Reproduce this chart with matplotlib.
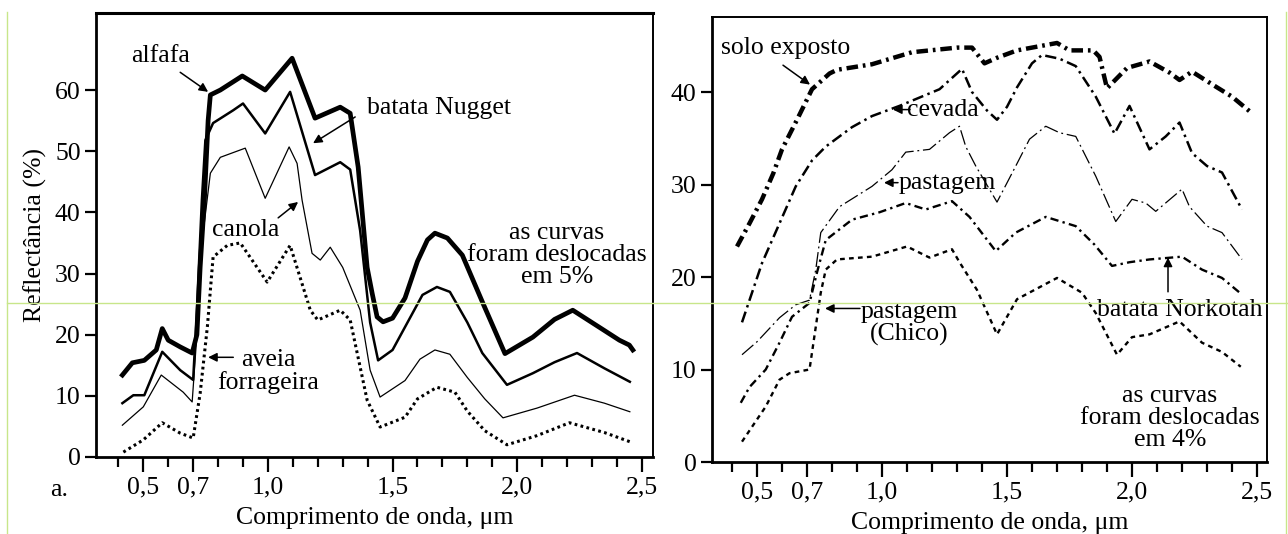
import matplotlib
matplotlib.use("Agg")
import matplotlib.pyplot as plt
import numpy as np

# ---- left panel data (reflectance %, curves shifted by 5%) ----
wl_alfafa = [0.416, 0.456, 0.504, 0.552, 0.576, 0.600, 0.648, 0.696, 0.715, 0.728, 0.745, 0.760,
             0.769, 0.809, 0.897, 0.989, 1.097, 1.189, 1.29, 1.33, 1.362, 1.398, 1.418, 1.438,
             1.462, 1.50, 1.55, 1.60, 1.64, 1.67, 1.72, 1.78, 1.863, 1.951, 2.063, 2.15,
             2.223, 2.33, 2.41, 2.45, 2.464]
r_alfafa = [13.4, 15.4, 15.8, 17.5, 21.0, 19.1, 18.0, 17.0, 20.0, 31.0, 42.0, 55.0,
            59.2, 60.0, 62.3, 60.0, 65.2, 55.4, 57.2, 56.2, 47.4, 31.0, 26.8, 22.9,
            22.1, 22.7, 26.0, 32.0, 35.5, 36.6, 35.8, 33.0, 25.1, 16.9, 19.6, 22.5,
            24.0, 21.2, 19.1, 18.3, 17.5]

wl_nugget = [0.416, 0.46, 0.504, 0.576, 0.648, 0.70, 0.716, 0.735, 0.749, 0.78, 0.861, 0.90,
             0.989, 1.089, 1.189, 1.29, 1.33, 1.37, 1.41, 1.442, 1.50, 1.58, 1.62, 1.678,
             1.73, 1.80, 1.86, 1.959, 2.063, 2.15, 2.24, 2.35, 2.452]
r_nugget = [8.8, 10.1, 10.1, 17.2, 14.2, 12.6, 25.0, 42.0, 51.8, 54.6, 56.7, 57.8,
            52.9, 59.7, 46.1, 48.2, 47.0, 37.0, 22.0, 15.8, 17.5, 23.5, 26.5, 27.8,
            27.0, 22.0, 17.0, 11.8, 13.7, 15.5, 17.0, 14.5, 12.3]

wl_canola = [0.416, 0.50, 0.572, 0.66, 0.696, 0.715, 0.735, 0.769, 0.809, 0.909, 0.989, 1.085,
             1.117, 1.137, 1.177, 1.21, 1.25, 1.30, 1.37, 1.41, 1.45, 1.55, 1.61, 1.67,
             1.73, 1.80, 1.87, 1.943, 2.08, 2.23, 2.35, 2.452]
r_canola = [5.2, 8.2, 13.4, 10.6, 9.0, 20.0, 35.0, 46.4, 49.0, 50.5, 42.3, 50.7,
            48.0, 42.0, 33.3, 32.2, 34.3, 31.0, 24.0, 14.2, 9.8, 12.5, 16.0, 17.5,
            16.8, 13.0, 9.5, 6.4, 8.0, 10.1, 8.8, 7.4]

wl_aveia = [0.42, 0.50, 0.576, 0.648, 0.70, 0.728, 0.757, 0.78, 0.837, 0.889, 0.997, 1.089,
            1.17, 1.20, 1.29, 1.33, 1.398, 1.45, 1.55, 1.60, 1.678, 1.75, 1.80, 1.87,
            1.959, 2.08, 2.21, 2.35, 2.452]
r_aveia = [0.8, 2.8, 5.6, 3.9, 3.1, 10.4, 21.3, 32.7, 34.6, 35.0, 28.6, 34.6,
           24.0, 22.4, 24.0, 22.4, 9.3, 4.9, 6.5, 9.5, 11.4, 10.6, 7.5, 4.3,
           2.0, 3.5, 5.6, 4.0, 2.5]

# ---- right panel data (curves shifted by 4%) ----
wl_solo = [0.42, 0.47, 0.52, 0.565, 0.60, 0.66, 0.72, 0.79, 0.82, 0.96, 1.12, 1.30, 1.36,
           1.41, 1.46, 1.54, 1.70, 1.75, 1.845, 1.87, 1.90, 1.98, 2.07, 2.15, 2.19, 2.24,
           2.34, 2.40, 2.48]
r_solo = [23.3, 25.8, 28.4, 31.2, 33.8, 37.0, 40.3, 42.0, 42.4, 43.0, 44.3, 44.8, 44.8,
          43.1, 43.7, 44.5, 45.3, 44.5, 44.5, 43.8, 40.4, 42.6, 43.3, 42.1, 41.3, 42.2,
          40.5, 39.5, 37.7]

wl_cevada = [0.44, 0.47, 0.52, 0.59, 0.655, 0.72, 0.775, 0.88, 0.96, 1.07, 1.23, 1.32, 1.36,
             1.42, 1.46, 1.50, 1.54, 1.60, 1.64, 1.71, 1.775, 1.855, 1.93, 1.99, 2.07,
             2.135, 2.19, 2.24, 2.30, 2.36, 2.44]
r_cevada = [15.1, 17.5, 21.5, 25.8, 29.8, 32.6, 34.1, 36.2, 37.4, 38.5, 40.3, 42.5, 40.0,
            38.0, 37.0, 38.4, 40.5, 43.1, 44.0, 43.6, 42.8, 39.5, 35.5, 38.5, 33.8,
            35.2, 36.7, 33.4, 32.0, 31.3, 27.3]

wl_pastagem = [0.44, 0.50, 0.59, 0.655, 0.71, 0.735, 0.755, 0.83, 0.96, 1.04, 1.095, 1.19,
               1.27, 1.31, 1.335, 1.375, 1.46, 1.535, 1.59, 1.655, 1.71, 1.775, 1.855,
               1.935, 2.0, 2.055, 2.095, 2.2, 2.23, 2.30, 2.36, 2.44]
r_pastagem = [11.6, 13.0, 15.6, 17.0, 17.5, 20.8, 24.8, 27.6, 29.8, 31.6, 33.5, 33.8,
              35.6, 36.3, 34.1, 32.0, 28.1, 32.0, 34.9, 36.3, 35.6, 35.2, 30.9,
              26.0, 28.4, 28.0, 27.1, 29.5, 27.6, 25.5, 24.8, 21.9]

wl_norkotah = [0.435, 0.47, 0.535, 0.59, 0.64, 0.71, 0.74, 0.775, 0.88, 0.99, 1.095, 1.175,
               1.28, 1.35, 1.455, 1.535, 1.655, 1.775, 1.85, 1.92, 1.99, 2.07, 2.2, 2.28,
               2.36, 2.44]
r_norkotah = [6.4, 8.1, 10.0, 12.9, 15.7, 17.2, 20.5, 24.0, 26.2, 27.0, 28.0, 27.3,
              28.2, 26.5, 22.8, 24.8, 26.5, 25.5, 23.5, 21.2, 21.6, 21.9, 22.2, 20.8,
              19.9, 18.1]

wl_chico = [0.44, 0.535, 0.59, 0.63, 0.71, 0.735, 0.755, 0.775, 0.82, 0.96, 1.10, 1.19,
            1.28, 1.31, 1.38, 1.46, 1.54, 1.70, 1.80, 1.855, 1.94, 2.0, 2.07, 2.19, 2.28,
            2.36, 2.435]
r_chico = [2.2, 6.0, 8.9, 9.6, 10.0, 14.6, 18.3, 20.8, 21.9, 22.2, 23.3, 22.1,
           23.0, 21.6, 18.6, 13.8, 17.6, 19.9, 18.3, 16.1, 11.6, 13.5, 13.8, 15.2, 12.9,
           11.9, 10.3]

xtick_major = [0.5, 0.7, 1.0, 1.5, 2.0, 2.5]
xtick_labels = ["0,5", "0,7", "1,0", "1,5", "2,0", "2,5"]
ytick_left = [0, 10, 20, 30, 40, 50, 60]
ytick_right = [0, 10, 20, 30, 40]

plt.rcParams['font.family'] = ['Liberation Serif', 'DejaVu Serif']
plt.rcParams['font.size'] = 18.5

fig = plt.figure(figsize=(12.88, 5.34), dpi=100)
ax1 = fig.add_axes([0.0745, 0.1442, 0.4325, 0.8315])
ax2 = fig.add_axes([0.5528, 0.1348, 0.4309, 0.8332])

# left
ax1.plot(wl_alfafa, r_alfafa, color='black', lw=3.4, solid_joinstyle='round')
ax1.plot(wl_nugget, r_nugget, color='black', lw=1.8, solid_joinstyle='round')
ax1.plot(wl_canola, r_canola, color='black', lw=0.9)
ax1.plot(wl_aveia, r_aveia, color='black', lw=2.2, linestyle=(0, (0.9, 1.1)))
ax1.set_xlim(0.31, 2.545)
ax1.set_ylim(0, 72.6)
ax1.set_yticks(ytick_left)
ax1.set_ylabel("Reflectância (%)", labelpad=6)

# right
ax2.plot(wl_solo, r_solo, color='black', lw=3.2, linestyle=(0, (2.6, 1.1, 0.6, 1.1)))
ax2.plot(wl_cevada, r_cevada, color='black', lw=1.8, linestyle=(0, (4.5, 1.8, 1.0, 1.8)))
ax2.plot(wl_pastagem, r_pastagem, color='black', lw=0.9, linestyle=(0, (12, 3, 1.5, 3)))
ax2.plot(wl_norkotah, r_norkotah, color='black', lw=1.7, linestyle=(0, (3.5, 1.8, 1.0, 1.8)))
ax2.plot(wl_chico, r_chico, color='black', lw=1.7, linestyle=(0, (2.0, 1.8)))
ax2.set_xlim(0.32, 2.54)
ax2.set_ylim(0, 48.1)
ax2.set_yticks(ytick_right)

for ax in (ax1, ax2):
    ax.set_xticks(xtick_major)
    ax.set_xticklabels(xtick_labels)
    ax.set_xticks([x / 10 for x in range(4, 26) if x / 10 not in xtick_major], minor=True)
    ax.tick_params(axis='x', which='major', direction='out', length=11, width=1.6, pad=3)
    ax.tick_params(axis='x', which='minor', direction='out', length=7, width=1.6)
    ax.tick_params(axis='y', direction='out', length=8, width=1.6, pad=3)
    ax.set_xlabel("Comprimento de onda, μm", labelpad=6)
    for s in ('left', 'bottom'):
        ax.spines[s].set_linewidth(2.0)
    for s in ('top', 'right'):
        ax.spines[s].set_linewidth(1.4)
ax1.spines['top'].set_linewidth(2.2)

arw = dict(arrowstyle='-|>', color='black', lw=1.1, mutation_scale=13, shrinkA=0, shrinkB=0)

# left annotations
ax1.text(0.568, 65.6, "alfafa", ha='center', va='center')
ax1.annotate("", xy=(0.76, 59.7), xytext=(0.648, 62.9), arrowprops=arw)
ax1.text(1.686, 57.1, "batata Nugget", ha='center', va='center')
ax1.annotate("", xy=(1.181, 51.3), xytext=(1.35, 55.6), arrowprops=arw)
ax1.text(0.909, 37.1, "canola", ha='center', va='center')
ax1.annotate("", xy=(1.121, 41.7), xytext=(1.041, 39.1), arrowprops=arw)
ax1.text(1.0, 14.0, "aveia\nforrageira", ha='center', va='center', linespacing=1.0)
ax1.annotate("", xy=(0.76, 16.3), xytext=(0.861, 16.3), arrowprops=arw)
ax1.text(2.159, 33.0, "as curvas\nforam deslocadas\nem 5%", ha='center', va='center',
         linespacing=1.0)

# right annotations
ax2.text(0.616, 44.8, "solo exposto", ha='center', va='center')
ax2.annotate("", xy=(0.712, 40.8), xytext=(0.604, 42.9), arrowprops=arw)
ax2.text(1.244, 38.1, "cevada", ha='center', va='center')
ax2.annotate("", xy=(1.044, 38.1), xytext=(1.112, 38.1), arrowprops=arw)
ax2.text(1.26, 30.2, "pastagem", ha='center', va='center')
ax2.annotate("", xy=(1.008, 30.2), xytext=(1.064, 30.2), arrowprops=arw)
ax2.text(1.108, 15.0, "pastagem\n(Chico)", ha='center', va='center', linespacing=1.0)
ax2.annotate("", xy=(0.772, 16.6), xytext=(0.912, 16.6), arrowprops=arw)
ax2.text(2.192, 16.4, "batata Norkotah", ha='center', va='center')
ax2.annotate("", xy=(2.144, 22.1), xytext=(2.144, 18.4), arrowprops=arw)
ax2.text(2.152, 4.76, "as curvas\nforam deslocadas\nem 4%", ha='center', va='center',
         linespacing=1.0)

fig.text(0.0458, 0.0824, "a.", ha='center', va='center')

# faint guide lines present in the scanned reference
guide = '#c8e68a'
fig.add_artist(plt.Line2D([7 / 1288, 1.0], [1 - 303 / 534] * 2, color=guide, lw=1.0))
fig.add_artist(plt.Line2D([7 / 1288] * 2, [0, 1 - 12 / 534], color=guide, lw=1.0))
fig.add_artist(plt.Line2D([1286 / 1288] * 2, [0, 1 - 12 / 534], color=guide, lw=1.0))

fig.savefig("out.png", dpi=100)
